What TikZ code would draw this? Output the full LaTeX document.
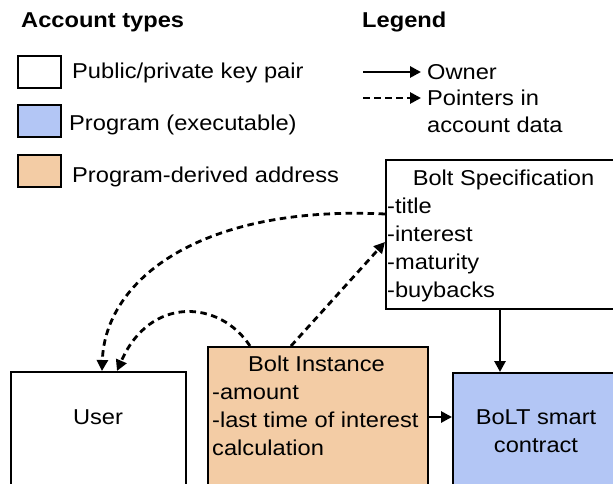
\documentclass[tikz,border=0pt]{standalone}
\usepackage{fontspec}
\setmainfont[FakeStretch=1.1]{Liberation Sans}
\usetikzlibrary{arrows.meta,calc}
\definecolor{pda}{HTML}{F3CCA5}
\definecolor{prog}{HTML}{B3C6F5}
\tikzset{
  acct/.style={draw=black, line width=2pt, anchor=north west, inner sep=0pt},
  txt/.style={font=\fontsize{21.5}{26}\selectfont, inner sep=0pt, anchor=base west},
  txtc/.style={font=\fontsize{21.5}{26}\selectfont, inner sep=0pt, anchor=base},
  ttl/.style={font=\fontsize{21.5}{26}\selectfont\bfseries, inner sep=0pt, anchor=base west},
  owner/.style={line width=2.8pt, -{Triangle[length=11pt,width=11pt]}},
  pointer/.style={line width=2.8pt, dash pattern=on 6.5pt off 4.5pt, -{Triangle[length=11pt,width=11pt]}},
}
\begin{document}
\begin{tikzpicture}[x=1pt,y=-1pt]
\clip (0,0) rectangle (613,484);
\fill[white] (0,0) rectangle (613,484);
% titles
\node[ttl] (t1) at (21,28) {Account types};
\node[ttl] (t2) at (362,28) {Legend};
% legend boxes
\node[acct, fill=white, minimum width=43pt, minimum height=32pt] (k1) at (17,55) {};
\node[acct, fill=prog, minimum width=43pt, minimum height=32pt] (k2) at (17,104) {};
\node[acct, fill=pda, minimum width=43pt, minimum height=32pt] (k3) at (17,154) {};
\node[txt] (l1) at (72,78.5) {Public/private key pair};
\node[txt] (l2) at (69,130.5) {Program (executable)};
\node[txt] (l3) at (72,182.5) {Program-derived address};
% legend arrows
\coordinate (oa) at (363,72);
\coordinate (ob) at (421,72);
\coordinate (pa) at (363,98);
\coordinate (pb) at (421,98);
\draw[owner] (oa) -- (ob);
\draw[pointer] (pa) -- (pb);
\node[txt] (lo) at (427,79.5) {Owner};
\node[txt] (lp) at (427,105.5) {Pointers in};
\node[txt] (lp2) at (427,132.5) {account data};
% main accounts
\node[acct, fill=white, minimum width=240pt, minimum height=149pt] (spec) at (385,159) {};
\node[acct, fill=white, minimum width=175pt, minimum height=160pt] (user) at (10,371) {};
\node[acct, fill=pda, minimum width=220pt, minimum height=160pt] (inst) at (207,346) {};
\node[acct, fill=prog, minimum width=200pt, minimum height=160pt] (bolt) at (452,372) {};
% texts
\node[txtc] (specT) at (503.5,185) {Bolt Specification};
\node[txt] (s1) at (387,213) {-title};
\node[txt] (s2) at (387,241) {-interest};
\node[txt] (s3) at (387,269) {-maturity};
\node[txt] (s4) at (387,297) {-buybacks};
\node[txtc] (userT) at (98,424.5) {User};
\node[txtc] (instT) at (316.5,371.5) {Bolt Instance};
\node[txt] (i1) at (212,399.5) {-amount};
\node[txt] (i2) at (212,427.5) {-last time of interest};
\node[txt] (i3) at (212,455.5) {calculation};
\node[txtc] (boltT1) at (536,424.5) {BoLT smart};
\node[txtc] (boltT2) at (536,452.5) {contract};
% connectors
\draw[owner] ($(spec.south west)+(115,0)$) -- ($(bolt.north west)+(48,0)$);
\draw[owner] ($(inst.north east)+(0,71)$) -- ($(bolt.north west)+(0,45)$);
\draw[pointer] ($(spec.north west)+(0,55)$) .. controls (200,205) and (105,280) .. ($(user.north west)+(92,0)$);
\draw[pointer] ($(inst.north west)+(43,0)$) .. controls (220,300) and (150,295) .. ($(user.north west)+(107,0)$);
\draw[pointer] ($(inst.north west)+(84,0)$) -- ($(spec.north west)+(0,83)$);
\end{tikzpicture}
\end{document}
